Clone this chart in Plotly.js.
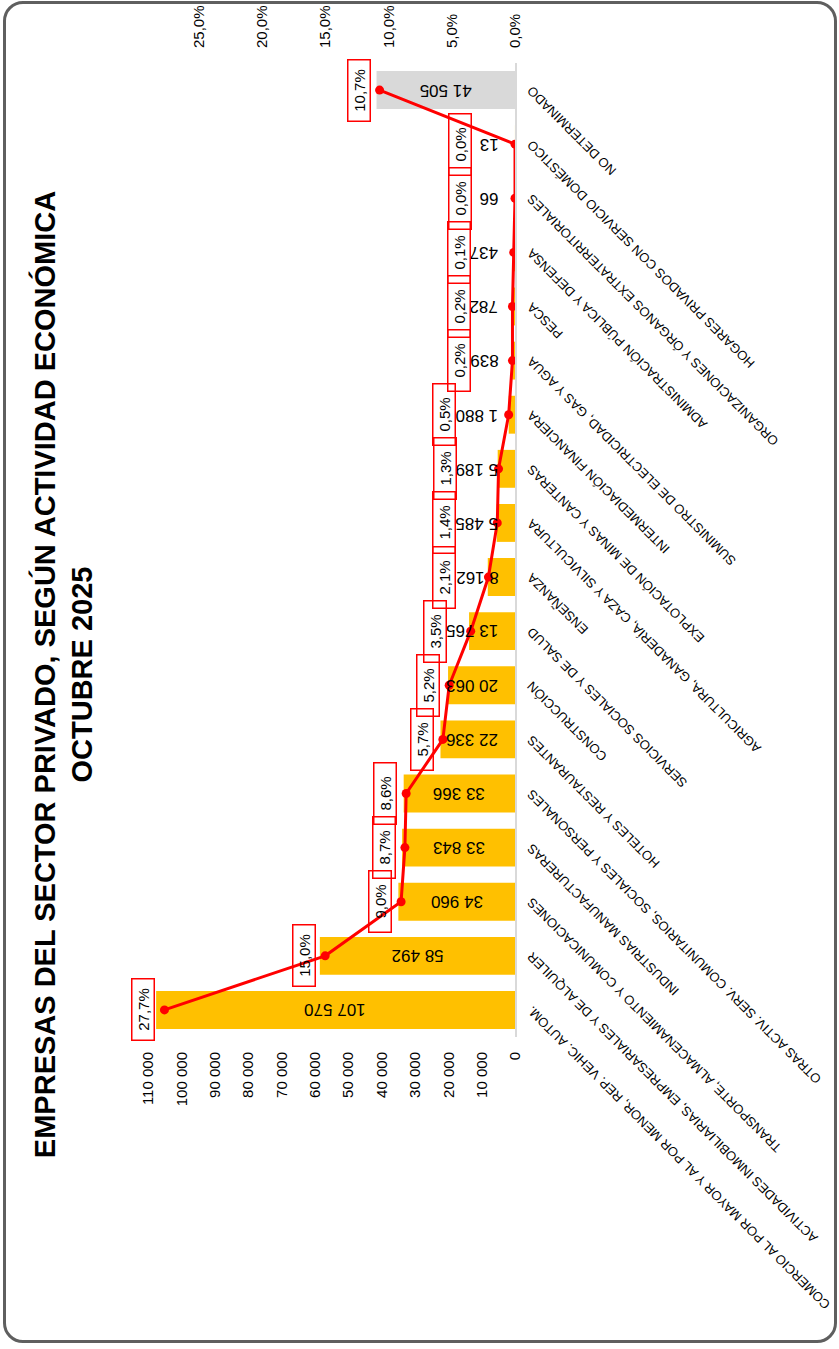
<!DOCTYPE html>
<html>
<head>
<meta charset="utf-8">
<script src="https://cdn.plot.ly/plotly-3.0.1.min.js"></script>
<style>
body { margin: 0; overflow: hidden; background: #fff; }
/* the chart is laid out landscape and turned a quarter turn to the left */
#wrap { position: absolute; left: 0; top: 0; width: 1349px; height: 839px;
  transform-origin: 0 0; transform: translate(0, 1349px) rotate(-90deg); }
#chart { position: absolute; left: 0; top: 0; width: 1349px; height: 839px; }
#frame { position: absolute; left: 6px; top: 3px; width: 1342px; height: 834px; box-sizing: border-box;
  border: 3px solid #5f5f5f; border-radius: 20px; pointer-events: none; }
</style>
</head>
<body>
<div id="wrap"><div id="chart"></div><div id="frame"></div></div>
<script>
// data (left to right on the landscape chart)
var sectors = [
    'COMERCIO AL POR MAYOR Y AL POR MENOR, REP. VEHIC. AUTOM.',
    'ACTIVIDADES INMOBILIARIAS, EMPRESARIALES Y DE ALQUILER',
    'TRANSPORTE, ALMACENAMIENTO Y COMUNICACIONES',
    'INDUSTRIAS MANUFACTURERAS',
    'OTRAS ACTIV. SERV. COMUNITARIOS, SOCIALES Y PERSONALES',
    'HOTELES Y RESTAURANTES',
    'CONSTRUCCIÓN',
    'SERVICIOS SOCIALES Y DE SALUD',
    'ENSEÑANZA',
    'AGRICULTURA, GANADERÍA, CAZA Y SILVICULTURA',
    'EXPLOTACIÓN DE MINAS Y CANTERAS',
    'INTERMEDIACIÓN FINANCIERA',
    'SUMINISTRO DE ELECTRICIDAD, GAS Y AGUA',
    'PESCA',
    'ADMINISTRACIÓN PÚBLICA Y DEFENSA',
    'ORGANIZACIONES Y ÓRGANOS EXTRATERRITORIALES',
    'HOGARES PRIVADOS CON SERVICIO DOMÉSTICO',
    'NO DETERMINADO'
];
var companies = [107570, 58492, 34960, 33843, 33366, 22336, 20063, 13765, 8162,
    5485, 5189, 1880, 839, 782, 437, 66, 13, 41505];
var sharePct = [27.7, 15.0, 9.0, 8.7, 8.6, 5.7, 5.2, 3.5, 2.1,
    1.4, 1.3, 0.5, 0.2, 0.2, 0.1, 0.0, 0.0, 10.7];

var FONT = 'Liberation Sans, Arial, sans-serif';
var PCT_MAX = 0.29;
var MARGIN = { l: 312, r: 63, t: 148, b: 324 };
var plotH = 839 - MARGIN.t - MARGIN.b;

var barColors = sectors.map(function (s) {
    return s === 'NO DETERMINADO' ? '#d9d9d9' : '#ffc000';
});

var bars = {
    type: 'bar',
    x: sectors,
    y: companies,
    marker: { color: barColors },
    hoverinfo: 'x+y',
    showlegend: false
};

var line = {
    type: 'scatter',
    mode: 'lines+markers',
    x: sectors,
    y: sharePct.map(function (p) { return p / 100; }),
    yaxis: 'y2',
    line: { color: '#ff0000', width: 3 },
    marker: { color: '#ff0000', size: 9 },
    showlegend: false
};

function fmtNum(v) {
    return String(v).replace(/\B(?=(\d{3})+(?!\d))/g, ' ');
}

// rough text length in px for the 17px bar labels
function labelLen(s) {
    return s.replace(/ /g, '').length * 9.45 + (s.indexOf(' ') >= 0 ? 4.7 : 0);
}

var annotations = [];

// value labels inside the bars; short bars keep the label near the axis
companies.forEach(function (v, i) {
    var big = v >= 25000;
    annotations.push({
        xref: 'x', yref: 'y',
        x: sectors[i], y: big ? v / 2 : 4400,
        yanchor: big ? 'middle' : 'bottom',
        text: fmtNum(v),
        textangle: -90,
        showarrow: false,
        font: { family: FONT, size: 17, color: '#000' }
    });
});

// percentage labels in red boxes, pushed past the bar label when they would collide
sharePct.forEach(function (p, i) {
    var v = companies[i];
    var pointPx = p / 100 / PCT_MAX * plotH;
    var dist = pointPx + 9;
    if (v < 25000) {
        dist = Math.max(dist, 15 + labelLen(fmtNum(v)) + 1, 43);
    }
    annotations.push({
        xref: 'x', yref: 'y2',
        x: sectors[i], y: p / 100,
        yanchor: 'bottom', yshift: dist - pointPx,
        text: p.toFixed(1).replace('.', ',') + '%',
        showarrow: false,
        width: 56,
        borderpad: 2,
        bordercolor: '#ff0000',
        borderwidth: 1.5,
        font: { family: FONT, size: 15, color: '#000' }
    });
});

var layout = {
    width: 1349,
    height: 839,
    separators: ', ',
    paper_bgcolor: 'rgba(0,0,0,0)',
    plot_bgcolor: 'rgba(0,0,0,0)',
    font: { family: FONT, color: '#000' },
    title: {
        text: '<b>EMPRESAS DEL SECTOR PRIVADO, SEGÚN ACTIVIDAD ECONÓMICA<br>OCTUBRE 2025</b>',
        font: { family: FONT, size: 29, color: '#000' },
        xref: 'container', x: 0.5, xanchor: 'center',
        yref: 'container', y: 0.935, yanchor: 'top'
    },
    margin: MARGIN,
    bargap: 0.3,
    xaxis: {
        type: 'category',
        range: [-0.5, sectors.length - 0.5],
        tickangle: -45,
        showline: true,
        linecolor: '#d9d9d9',
        linewidth: 2,
        ticks: '',
        showgrid: false,
        automargin: false,
        ticklabelstandoff: 2,
        tickfont: { family: FONT, size: 13, color: '#000' }
    },
    yaxis: {
        range: [0, 110000],
        dtick: 10000,
        tickformat: ',d',
        showgrid: false,
        zeroline: false,
        showline: false,
        ticks: '',
        automargin: false,
        ticklabelstandoff: 14,
        tickfont: { family: FONT, size: 15, color: '#000' }
    },
    yaxis2: {
        overlaying: 'y',
        side: 'right',
        range: [0, PCT_MAX],
        dtick: 0.05,
        tickformat: '.1%',
        showgrid: false,
        zeroline: false,
        showline: false,
        ticks: '',
        automargin: false,
        ticklabelstandoff: 14,
        tickfont: { family: FONT, size: 15, color: '#000' }
    },
    annotations: annotations
};

Plotly.newPlot('chart', [bars, line], layout, { staticPlot: true });
</script>
</body>
</html>
